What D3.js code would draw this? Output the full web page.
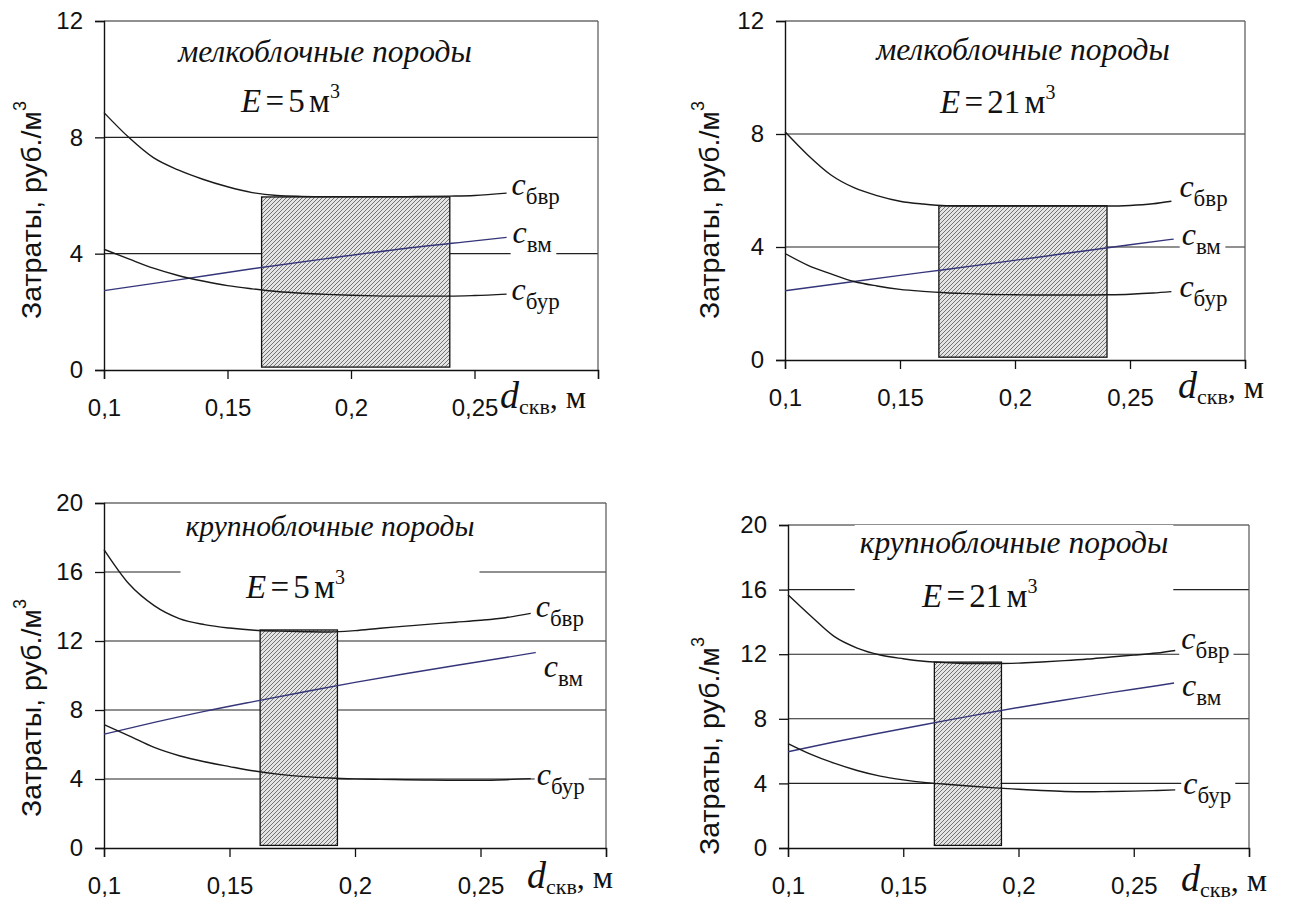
<!DOCTYPE html>
<html>
<head>
<meta charset="utf-8">
<script src="https://cdn.jsdelivr.net/npm/d3@7"></script>
<style>
  body { margin: 0; background: #fff; }
  svg { display: block; }
</style>
</head>
<body>
<div id="chart"></div>
<script>
// ---- data ----
var xTicks = [0.1, 0.15, 0.2, 0.25, 0.3];
var xTickLabels = ["0,1", "0,15", "0,2", "0,25", ""];
var yTicksSmall = [0, 4, 8, 12];
var yTicksLarge = [0, 4, 8, 12, 16, 20];

var titles = ["мелкоблочные породы", "мелкоблочные породы", "крупноблочные породы", "крупноблочные породы"];
var volumes = ["5", "21", "5", "21"];
var seriesNames = ["бвр", "вм", "бур"];

// panel 1: мелкоблочные, E = 5
var p1X = [0.1, 0.11, 0.12, 0.13, 0.14, 0.15, 0.16, 0.17, 0.18, 0.19, 0.2, 0.21, 0.22, 0.23, 0.24, 0.25, 0.263];
var p1Bvr = [8.85, 8.0, 7.3, 6.88, 6.56, 6.3, 6.1, 6.0, 5.97, 5.96, 5.96, 5.96, 5.96, 5.97, 5.98, 6.0, 6.08];
var p1Bur = [4.15, 3.82, 3.5, 3.25, 3.06, 2.9, 2.79, 2.7, 2.64, 2.6, 2.57, 2.55, 2.54, 2.54, 2.54, 2.56, 2.61];
var p1XVm = [0.1, 0.13, 0.16, 0.19, 0.22, 0.25, 0.263];
var p1Vm = [2.73, 3.1, 3.48, 3.83, 4.16, 4.44, 4.56];
var p1Zone = [0.1638, 0.240, 0.1, 5.95];

// panel 2: мелкоблочные, E = 21
var p2X = [0.1, 0.11, 0.12, 0.13, 0.14, 0.15, 0.16, 0.17, 0.18, 0.19, 0.2, 0.21, 0.22, 0.23, 0.24, 0.25, 0.26, 0.268];
var p2Bvr = [8.08, 7.25, 6.55, 6.1, 5.82, 5.62, 5.52, 5.46, 5.45, 5.45, 5.45, 5.45, 5.45, 5.45, 5.45, 5.47, 5.53, 5.62];
var p2Bur = [3.77, 3.35, 3.05, 2.78, 2.62, 2.5, 2.43, 2.38, 2.35, 2.32, 2.31, 2.3, 2.3, 2.3, 2.31, 2.33, 2.37, 2.42];
var p2XVm = [0.1, 0.13, 0.16, 0.19, 0.22, 0.25, 0.269];
var p2Vm = [2.45, 2.78, 3.1, 3.42, 3.75, 4.08, 4.28];
var p2Zone = [0.1669, 0.240, 0.1, 5.46];

// panel 3: крупноблочные, E = 5
var p3X = [0.1, 0.11, 0.12, 0.13, 0.14, 0.15, 0.16, 0.17, 0.18, 0.19, 0.2, 0.21, 0.22, 0.23, 0.24, 0.25, 0.26, 0.27];
var p3Bvr = [17.3, 15.3, 14.05, 13.3, 12.95, 12.75, 12.62, 12.57, 12.54, 12.52, 12.6, 12.74, 12.86, 12.98, 13.09, 13.2, 13.35, 13.6];
var p3Bur = [7.15, 6.5, 5.83, 5.35, 5.0, 4.72, 4.46, 4.27, 4.14, 4.06, 4.01, 3.98, 3.96, 3.94, 3.93, 3.93, 3.96, 4.02];
var p3XVm = [0.1, 0.12, 0.14, 0.16, 0.18, 0.2, 0.22, 0.24, 0.26, 0.272];
var p3Vm = [6.6, 7.28, 7.92, 8.5, 9.06, 9.6, 10.1, 10.58, 11.04, 11.33];
var p3Zone = [0.1622, 0.193, 0.15, 12.64];

// panel 4: крупноблочные, E = 21
var p4X = [0.1, 0.11, 0.12, 0.13, 0.14, 0.15, 0.16, 0.17, 0.18, 0.19, 0.2, 0.21, 0.22, 0.23, 0.24, 0.25, 0.26, 0.268];
var p4Bvr = [15.68, 14.35, 13.1, 12.38, 11.95, 11.72, 11.55, 11.47, 11.42, 11.42, 11.45, 11.52, 11.6, 11.7, 11.83, 11.94, 12.07, 12.23];
var p4Bur = [6.47, 5.8, 5.25, 4.8, 4.45, 4.22, 4.05, 3.93, 3.82, 3.72, 3.64, 3.56, 3.5, 3.48, 3.5, 3.52, 3.56, 3.6];
var p4XVm = [0.1, 0.12, 0.14, 0.16, 0.18, 0.2, 0.22, 0.24, 0.26, 0.2675];
var p4Vm = [5.96, 6.56, 7.12, 7.66, 8.2, 8.7, 9.16, 9.62, 10.05, 10.22];
var p4Zone = [0.1635, 0.1926, 0.16, 11.51];

// ---- layout (pixels) ----
var boxes = [
  {l: 104, r: 598, t: 21, b: 370},
  {l: 785, r: 1245, t: 21, b: 360},
  {l: 104, r: 606, t: 503, b: 848},
  {l: 788, r: 1249, t: 525, b: 848}
];
// title centre x / baseline, E start x / baseline
var titlePos = [[325, 62, 241, 112], [1023, 60, 940, 113], [330, 536, 246, 598], [1014, 553, 922, 607]];
var titleSize = [31.5, 31.5, 29.5, 31.5];
// x axis name: d start x / baseline
var xNamePos = [[500, 408], [1178, 398], [527, 888], [1181, 891]];
// y axis name centre x / centre y
var yNamePos = [[31, 210], [709, 210], [31, 708], [709, 746]];
// series label offsets [dx, dy] from curve end (бвр, вм, бур)
var labelOff = [
  [[5, 2], [6, 6], [5, 6]],
  [[8, -4], [8, 6], [8, 5]],
  [[5, 4], [8, 24], [6, 6]],
  [[6, -1], [8, 13], [8, 4]]
];

var serif = "'Liberation Serif', 'Times New Roman', serif";
var sans = "'Liberation Sans', Arial, sans-serif";

var panels = [
  {yMax: 12, yTicks: yTicksSmall, series: [[p1X, p1Bvr], [p1XVm, p1Vm], [p1X, p1Bur]], zone: p1Zone},
  {yMax: 12, yTicks: yTicksSmall, series: [[p2X, p2Bvr], [p2XVm, p2Vm], [p2X, p2Bur]], zone: p2Zone},
  {yMax: 20, yTicks: yTicksLarge, series: [[p3X, p3Bvr], [p3XVm, p3Vm], [p3X, p3Bur]], zone: p3Zone},
  {yMax: 20, yTicks: yTicksLarge, series: [[p4X, p4Bvr], [p4XVm, p4Vm], [p4X, p4Bur]], zone: p4Zone}
];
var lineColors = ["#1a1a1a", "#35357a", "#1a1a1a"];

var svg = d3.select("#chart").append("svg")
  .attr("width", 1303)
  .attr("height", 908);

var defs = svg.append("defs");
var pat = defs.append("pattern")
  .attr("id", "hatch")
  .attr("patternUnits", "userSpaceOnUse")
  .attr("width", 4)
  .attr("height", 4);
pat.append("rect").attr("width", 4).attr("height", 4).attr("fill", "#e4e4e4");
pat.append("path")
  .attr("d", "M-1,1 l2,-2 M0,4 l4,-4 M3,5 l2,-2")
  .attr("stroke", "#666")
  .attr("stroke-width", 0.9);

panels.forEach(function(p, i) {
  var box = boxes[i];
  var x = d3.scaleLinear().domain([0.1, 0.3]).range([box.l, box.r]);
  var y = d3.scaleLinear().domain([0, p.yMax]).range([box.b, box.t]);
  var g = svg.append("g");

  // horizontal gridlines
  g.selectAll("line.grid").data(p.yTicks.filter(function(v) { return v > 0; }))
    .enter().append("line")
    .attr("x1", box.l).attr("x2", box.r)
    .attr("y1", function(d) { return y(d); })
    .attr("y2", function(d) { return y(d); })
    .attr("stroke", "#222")
    .attr("stroke-width", 1.1);

  // right border
  g.append("line")
    .attr("x1", box.r).attr("x2", box.r)
    .attr("y1", box.t).attr("y2", box.b)
    .attr("stroke", "#555")
    .attr("stroke-width", 1.2);

  // axes
  var yAxis = d3.axisLeft(y).tickValues(p.yTicks).tickSize(9).tickPadding(12)
    .tickFormat(function(d) { return d; });
  var ya = g.append("g").attr("transform", "translate(" + box.l + ",0)").call(yAxis);
  var xAxis = d3.axisBottom(x).tickValues(xTicks).tickSize(9).tickPadding(14)
    .tickFormat(function(d, k) { return xTickLabels[k]; });
  var xa = g.append("g").attr("transform", "translate(0," + box.b + ")").call(xAxis);
  [ya, xa].forEach(function(a) {
    a.select(".domain").attr("stroke", "#111").attr("stroke-width", 1.4);
    a.selectAll(".tick line").attr("stroke", "#111").attr("stroke-width", 1.3);
    a.selectAll("text").attr("font-family", sans).attr("font-size", 24).attr("fill", "#111");
  });
  xa.selectAll("text").attr("dy", "0.95em");

  // title block with white backing
  var tb = g.append("g");
  var tbg = tb.append("rect").attr("fill", "#fff");
  tb.append("text")
    .attr("x", titlePos[i][0]).attr("y", titlePos[i][1])
    .attr("text-anchor", "middle")
    .attr("font-family", serif).attr("font-style", "italic")
    .attr("font-size", titleSize[i]).attr("fill", "#111")
    .text(titles[i]);
  var et = tb.append("text")
    .attr("x", titlePos[i][2]).attr("y", titlePos[i][3])
    .attr("font-family", serif).attr("font-size", 33)
    .attr("word-spacing", -4).attr("fill", "#111");
  et.append("tspan").attr("font-style", "italic").text("E");
  et.append("tspan").text(" = " + volumes[i] + " м");
  et.append("tspan").attr("font-size", 20).attr("dy", -14).text("3");
  var bb = tb.node().getBBox();
  tbg.attr("x", bb.x - 5).attr("y", bb.y).attr("width", bb.width + 10).attr("height", bb.height);

  // optimal zone
  var z = p.zone;
  g.append("rect")
    .attr("x", x(z[0])).attr("y", y(z[3]))
    .attr("width", x(z[1]) - x(z[0]))
    .attr("height", y(z[2]) - y(z[3]))
    .attr("fill", "url(#hatch)")
    .attr("stroke", "#111")
    .attr("stroke-width", 1.3);

  // curves and their labels
  var line = d3.line()
    .x(function(d) { return x(d[0]); })
    .y(function(d) { return y(d[1]); })
    .curve(d3.curveMonotoneX);

  p.series.forEach(function(s, k) {
    var pts = s[0].map(function(v, j) { return [v, s[1][j]]; });
    var last = pts[pts.length - 1];
    var lx = x(last[0]) + labelOff[i][k][0];
    var ly = y(last[1]) + labelOff[i][k][1];
    var lg = g.append("g");
    var lbg = lg.append("rect").attr("fill", "#fff");
    var t = lg.append("text")
      .attr("x", lx).attr("y", ly)
      .attr("font-family", serif).attr("fill", "#111");
    t.append("tspan").attr("font-style", "italic").attr("font-size", 32).text("c");
    t.append("tspan").attr("font-size", 23).attr("dy", 9).text(seriesNames[k]);
    var lb = t.node().getBBox();
    lbg.attr("x", lb.x - 2).attr("y", lb.y + 4).attr("width", lb.width + 6).attr("height", lb.height - 6);

    g.append("path")
      .datum(pts)
      .attr("d", line)
      .attr("fill", "none")
      .attr("stroke", lineColors[k])
      .attr("stroke-width", 1.4);
  });

  // x axis name
  var xn = g.append("text")
    .attr("x", xNamePos[i][0]).attr("y", xNamePos[i][1])
    .attr("font-family", serif).attr("fill", "#111");
  xn.append("tspan").attr("font-style", "italic").attr("font-size", 38).text("d");
  xn.append("tspan").attr("font-size", 22).attr("dy", 6).text("скв");
  xn.append("tspan").attr("font-size", 32).attr("dy", -6).text(", м");

  // y axis name
  var yn = g.append("text")
    .attr("transform", "translate(" + yNamePos[i][0] + "," + yNamePos[i][1] + ") rotate(-90)")
    .attr("text-anchor", "middle")
    .attr("dominant-baseline", "central")
    .attr("font-family", sans).attr("font-size", 28.5).attr("fill", "#111");
  yn.append("tspan").text("Затраты, руб./м");
  yn.append("tspan").attr("font-size", 18).attr("dy", -11).text("3");
});
</script>
</body>
</html>
